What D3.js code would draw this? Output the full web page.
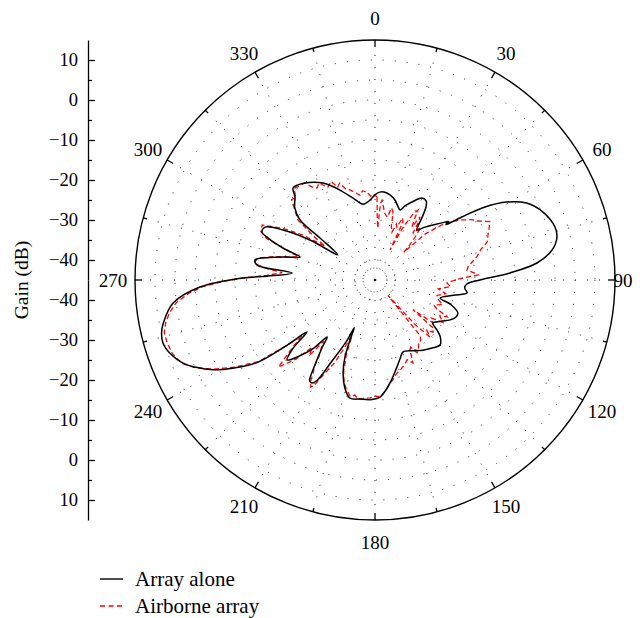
<!DOCTYPE html>
<html><head><meta charset="utf-8">
<script src="https://cdn.jsdelivr.net/npm/d3@7"></script>
<style>body{margin:0;background:#fff}svg{display:block}text{font-family:"Liberation Serif","DejaVu Serif",serif;fill:#000}</style>
</head><body>
<svg id="c" width="644" height="618"></svg>
<script>
// ---- data ----
const angleLabels = [0,30,60,90,120,150,180,210,240,270,300,330];
const gainTicksMajor = [10,0,-10,-20,-30,-40];
const gainTicksMinor = [5,-5,-15,-25,-35];
const seriesNames = ["Array alone","Airborne array"];

const aloneAngle = [0,3,6.5,10,14,17,19.7,22,25.4,29.8,33,35,37,40,43,46.5,50.4,51.5,52,54,56.4,59.4,63.1,68,73.6,76.7,80.4,84,87,90,92.5,95,98,101,105.5,108,111.7,115,118,122,126.6,129,131,135,140,145.6,152,158.7,162,165.8,171.7,177.5,182,187,192,195,199,201.3,202.6,203.5,205,208,210,211.5,213,215,218,220,222,225,227.7,230,232.6,233.5,235,238,241,244,246.6,250,253.4,256,258.5,263.5,267.7,270.9,272,274.8,277.2,279.5,282,284.5,287,289,291.4,293,295.7,298.5,301.6,304,307.4,308.7,312,316,318.3,321,324.2,328,331.8,335,338.7,345,351,356.4];
const aloneGain = [-23.7,-23,-22.9,-23.4,-24.4,-25.6,-26.4,-25,-23.4,-21.4,-21.5,-22.8,-25.5,-28.7,-27,-25,-22.3,-21.5,-22.5,-18.2,-12,-6.7,-2.5,0.3,1.9,1.75,-0.1,-4.3,-11.2,-18.75,-22,-22.5,-21.75,-25,-28.1,-25,-22.7,-22.8,-23.75,-25.5,-27,-25,-23.4,-22,-22.8,-23.75,-25,-25.7,-24.5,-22.6,-19,-15.7,-15.1,-15,-14.8,-16.5,-20.5,-24.3,-28.7,-32,-28,-22,-16,-14.8,-15,-18.5,-23.5,-26.4,-22,-18,-15.3,-18,-23.6,-17,-9,-3.5,1.3,4.8,7.3,9.3,10.3,10,9,5.8,-1.2,-12,-18,-24.2,-15.3,-14.6,-18,-22,-25.4,-21,-16.3,-14.3,-14.5,-18.8,-25.9,-33.8,-27.7,-21,-18,-16.2,-14.2,-14.4,-15.1,-16.2,-17.5,-19,-20.9,-23.8,-25.8,-25];

const airAngle = [1.4,2,3,4,5,7,8,11,13,15,17,19.5,21,22.5,24,25.8,26.6,28,30,31.6,33,34.9,35.5,37,39,41,43,45,46,47.5,49,51,53,55.5,58,60,63,66,68.3,71.3,74,77,79.5,82,84,86,87.2,88.7,90,92.4,95,98,101,104,107,110,113,115,117,119,122,124,126.5,128,129.5,132,134,136,138,140,141,143,145,148,150,152,153.4,155.4,158,161,164.5,167,170,172,174,176,177.5,180,182.4,185,188,190,192,195,197,199,201,202.5,204,206,208,210,211,212.5,213.5,215,216,218,220,221,223,225,227,228,229.5,231,232.5,233.5,235,238,241,244,246.6,250,253.4,256,258.5,261,263.5,266,267.7,269.5,271,272.5,274.5,276,277.5,279.5,281,283,285,287,289,291,293,296,298.5,300,302,304,305.5,308,311,314,316,318.5,321,324,326,327.8,330,333,336,338,340,342,344.5,347,350,352,354.8,357,359];
const airGain = [-24.25,-29,-32,-26,-25,-27,-28,-29,-26.5,-27.5,-31,-32.3,-30,-30.7,-28,-29,-36.6,-30,-26,-24.5,-27,-28.8,-25.6,-27,-30,-27.5,-30.3,-33,-35,-28,-25.9,-22.5,-20.5,-18.5,-16.5,-15.5,-12.8,-13.8,-14.6,-15.4,-17.5,-18.8,-20.3,-21.5,-21.9,-20,-19.2,-23,-25,-27,-26,-29,-27,-29,-28.5,-27,-29,-28,-24.75,-26.5,-25,-28,-27,-33,-26,-25.5,-27,-25.2,-30,-40,-27,-26,-26,-24.5,-24,-26,-25.5,-22.2,-23.5,-22.5,-21.6,-21,-19.6,-18.8,-17.5,-16.5,-15.7,-16,-15.5,-15.3,-14.9,-15.8,-15.2,-17,-18.5,-21,-25,-30,-27,-22,-19,-14.5,-13.8,-15,-17,-18.5,-21,-23,-25,-20,-22,-17,-14,-12.5,-16,-19,-22,-17.5,-9.5,-4,1,5,7.5,8.9,9.3,9.3,8.4,7,5,1.5,-1.8,-7,-12.5,-18,-21.7,-18,-15,-14.6,-16,-19,-23,-25,-21,-16,-14,-13.6,-17.5,-20,-24,-30,-26,-20.5,-18.5,-16,-16.5,-14.5,-14.8,-15,-17,-17.8,-17,-19,-18,-20,-19.2,-21,-21.6,-22.5,-23.5,-22.5,-22.9,-24,-23.5];

// ---- layout ----
const svg = d3.select("#c");
const cx = 375, cy = 280, R = 240;
const r = d3.scaleLinear().domain([-45, 15]).range([0, R]);
const g = svg.append("g").attr("transform", `translate(${cx},${cy})`);
const rad = a => a * Math.PI / 180;

// grid rings
const ringGains = d3.range(-40, 15, 5);
g.selectAll("circle.ring").data(ringGains).enter().append("circle")
  .attr("r", d => r(d)).attr("fill", "none").attr("stroke", "#222")
  .attr("stroke-width", 1).attr("stroke-dasharray", "1,11");
g.append("circle").attr("r", 12).attr("fill", "none").attr("stroke", "#333")
  .attr("stroke-width", 1).attr("stroke-dasharray", "1,2.2");
g.append("circle").attr("r", 1.3).attr("fill", "#000");

// radial dotted lines
const spokes = d3.range(0, 360, 15);
g.selectAll("line.spoke").data(spokes).enter().append("line")
  .attr("x1", d => 20 * Math.sin(rad(d))).attr("y1", d => -20 * Math.cos(rad(d)))
  .attr("x2", d => (R - 4) * Math.sin(rad(d))).attr("y2", d => -(R - 4) * Math.cos(rad(d)))
  .attr("stroke", "#222").attr("stroke-width", 1).attr("stroke-dasharray", "1,11");

// outer circle
g.append("circle").attr("r", R).attr("fill", "none").attr("stroke", "#000").attr("stroke-width", 1.4);
// angular ticks
g.selectAll("line.tick").data(spokes).enter().append("line")
  .attr("x1", d => R * Math.sin(rad(d))).attr("y1", d => -R * Math.cos(rad(d)))
  .attr("x2", d => (R - (d % 30 === 0 ? 7 : 4)) * Math.sin(rad(d)))
  .attr("y2", d => -(R - (d % 30 === 0 ? 7 : 4)) * Math.cos(rad(d)))
  .attr("stroke", "#000").attr("stroke-width", 1.3);

// angle labels
g.selectAll("text.al").data(angleLabels).enter().append("text")
  .attr("x", d => (d === 90 ? 248 : 262) * Math.sin(rad(d)))
  .attr("y", d => -(d === 90 ? 248 : 262) * Math.cos(rad(d)))
  .attr("text-anchor", "middle").attr("dominant-baseline", "central")
  .attr("font-size", 19).text(d => d);

// curves
const toPts = (A, G) => A.map((a, i) => [rad(a), r(G[i])]);
const lineSmooth = d3.lineRadial().angle(d => d[0]).radius(d => d[1]).curve(d3.curveCatmullRomClosed.alpha(0.5));
const lineJag = d3.lineRadial().angle(d => d[0]).radius(d => d[1]).curve(d3.curveLinearClosed);
g.append("path").attr("d", lineJag(toPts(airAngle, airGain)))
  .attr("fill", "none").attr("stroke", "#ff0000").attr("stroke-width", 1.3).attr("stroke-dasharray", "5,3");
g.append("path").attr("d", lineSmooth(toPts(aloneAngle, aloneGain)))
  .attr("fill", "none").attr("stroke", "#000").attr("stroke-width", 1.5);

// left gain axis (mirrored)
const yTop = d3.scaleLinear().domain([-45, 15]).range([cy, cy - R]);
const yBot = d3.scaleLinear().domain([-45, 15]).range([cy, cy + R]);
const fmt = d => (d < 0 ? "\u2212" + Math.abs(d) : String(d));
const ax = 88;
[yTop, yBot].forEach(sc => {
  const a = svg.append("g").attr("transform", `translate(${ax},0)`)
    .call(d3.axisLeft(sc).tickValues(gainTicksMajor).tickFormat(fmt).tickSizeInner(-7).tickSizeOuter(0).tickPadding(10));
  a.select(".domain").attr("stroke-width", 1.3);
  a.selectAll(".tick line").attr("stroke-width", 1.3);
  a.selectAll("text").attr("font-size", 18.5).style("font-family", '"Liberation Serif", serif');
  const m = svg.append("g").attr("transform", `translate(${ax},0)`)
    .call(d3.axisLeft(sc).tickValues(gainTicksMinor).tickFormat("").tickSizeInner(-4).tickSizeOuter(0));
  m.select(".domain").remove();
  m.selectAll(".tick line").attr("stroke-width", 1.3);
});
svg.append("text").attr("transform", `translate(21,${cy}) rotate(-90)`)
  .attr("text-anchor", "middle").attr("dominant-baseline", "central").attr("font-size", 19.5).text("Gain (dB)");

// legend
const leg = svg.append("g");
seriesNames.forEach((name, i) => {
  const y = 579 + i * 27;
  leg.append("line").attr("x1", 100).attr("x2", 123).attr("y1", y).attr("y2", y)
    .attr("stroke", i === 0 ? "#000" : "#ff0000").attr("stroke-width", 1.4)
    .attr("stroke-dasharray", i === 0 ? null : "5,3.5");
  leg.append("text").attr("x", 135).attr("y", y).attr("dominant-baseline", "central")
    .attr("font-size", 21).text(name);
});
</script>
</body></html>
